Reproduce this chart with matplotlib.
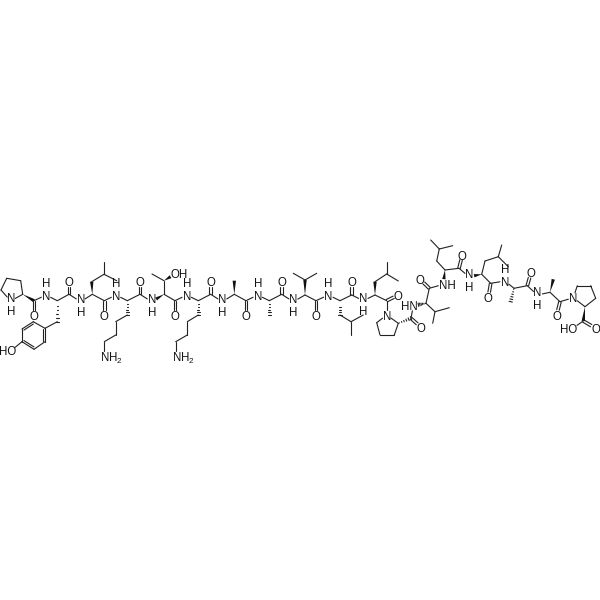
import numpy as np
import matplotlib
matplotlib.use("Agg")
import matplotlib.pyplot as plt
from matplotlib.patches import Polygon

plt.rcParams['font.family'] = ['Liberation Sans', 'DejaVu Sans']
plt.rcParams['mathtext.fontset'] = 'custom'
plt.rcParams['mathtext.rm'] = 'Liberation Sans'
plt.rcParams['mathtext.default'] = 'regular'

# atom name -> (x, y) (image pixels)
pro1 = {'p1a': (22.7, 294.3), 'p1b': (20.7, 280.7), 'p1c': (6.7, 278.3), 'p1d': (1, 290), 'p1n': (10.7, 301),
        'p1k': (34, 300.7), 'p1o': (34, 315)}
tyr = {'yn': (46, 295), 'ya': (57.3, 300.7), 'yb': (57.3, 321.7), 'y1': (45, 328.3), 'y2': (33.3, 321.7),
       'y3': (22, 329), 'y4': (22, 341.7), 'y5': (34, 349.3), 'y6': (45, 341.7), 'yoh': (11, 350.7),
       'yk': (69, 294.3), 'yo': (69, 281.7)}
leu1 = {'l1n': (80.7, 301.7), 'l1a': (92.3, 294.3), 'l1b': (91.7, 281.7), 'l1g': (104, 274.3),
        'l1d': (104, 261.7), 'l1e': (116.7, 280.7), 'l1k': (104.3, 300.7), 'l1o': (104.3, 315)}
lys1 = {'k1n': (116, 295), 'k1a': (127.3, 300.7), 'k1b': (127.3, 315), 'k1c': (115.7, 321.7), 'k1d': (115.7, 335),
        'k1e': (104.3, 341.7), 'k1z': (104.3, 356), 'k1k': (140, 294.3), 'k1o': (140, 281.7)}
thr = {'tn': (151.7, 301.7), 'ta': (164, 294.3), 'tb': (164, 280.7), 'tm': (152, 274), 'toh': (175, 274),
       'tk': (175, 300.7), 'to': (175, 315)}
lys2 = {'k2n': (186.7, 295), 'k2a': (198.3, 300.7), 'k2b': (198.3, 315), 'k2c': (187.3, 321.7), 'k2d': (187.3, 335),
        'k2e': (175.7, 341.7), 'k2z': (175.7, 356), 'k2k': (210.7, 294.3), 'k2o': (210.7, 281.7)}
ala1 = {'a1n': (222.3, 301.7), 'a1a': (234.3, 294.3), 'a1b': (234.3, 280.7), 'a1k': (246, 300.7), 'a1o': (246, 315)}
ala2 = {'a2n': (257.7, 295), 'a2a': (269.3, 300.7), 'a2b': (269.3, 315), 'a2k': (281.7, 294.3), 'a2o': (281.7, 281.7)}
val1 = {'v1n': (293.3, 301.7), 'v1a': (305, 295), 'v1b': (305, 280), 'v1c': (293.3, 273.3), 'v1d': (316.7, 273.3),
        'v1k': (316, 300.7), 'v1o': (316, 315)}
leu2 = {'l2n': (328.3, 295), 'l2a': (340, 300.7), 'l2b': (340, 315), 'l2g': (351, 321.7), 'l2d': (363.3, 315),
        'l2e': (351, 335), 'l2k': (351.7, 295), 'l2o': (351.7, 281.7)}
leu3 = {'l3n': (363.3, 300.7), 'l3a': (375, 295), 'l3b': (375, 281.7), 'l3g': (386.7, 274), 'l3d': (386.7, 261.7),
        'l3e': (398.3, 281), 'l3k': (386.7, 300.7), 'l3o': (398.3, 295)}
pro2 = {'p2n': (386.7, 315), 'p2a': (398.3, 323.3), 'p2b': (394.3, 335), 'p2c': (380, 335), 'p2d': (376.7, 322.7),
        'p2k': (411, 318.3), 'p2o': (421, 327.3)}
val2 = {'v2n': (413.3, 305.7), 'v2a': (426, 303.3), 'v2b': (435, 311.7), 'v2c': (449.3, 307.7), 'v2d': (432.7, 323.3),
        'v2k': (429.3, 288.3), 'v2o': (420, 279.3)}
leu4 = {'l4n': (443.3, 284.3), 'l4a': (445, 270), 'l4b': (436.7, 261), 'l4g': (439.3, 249), 'l4d': (430.7, 240),
        'l4e': (452.7, 245.7), 'l4k': (459, 268.3), 'l4o': (462.3, 255)}
leu5 = {'l5n': (469, 276.7), 'l5a': (481.7, 274.3), 'l5b': (485, 261), 'l5g': (498.3, 256.7), 'l5d': (501.7, 245),
        'l5e': (508.3, 266.7), 'l5k': (490.7, 283.3), 'l5o': (488.3, 297.3)}
ala3 = {'a3n': (505, 281), 'a3a': (514, 288.3), 'a3b': (510.7, 301.7), 'a3k': (527.3, 285.7), 'a3o': (531, 272.7)}
ala4 = {'a4n': (537.3, 295), 'a4a': (550, 292.3), 'a4b': (553.3, 279.3), 'a4k': (560, 301.7), 'a4o': (556.7, 315)}
pro3 = {'p3n': (573.3, 297.7), 'p3a': (585, 306.7), 'p3b': (595.7, 298.3), 'p3c': (590.7, 285.7), 'p3d': (577.3, 285.7),
        'p3k': (583.3, 321), 'p3o': (595.7, 328.3), 'p3h': (572.7, 328.3)}
atoms = {}
for group in (pro1, tyr, leu1, lys1, thr, lys2, ala1, ala2, val1, leu2, leu3, pro2, val2, leu4, leu5, ala3, ala4, pro3):
    atoms.update(group)

single_bonds = """p1a-p1b p1b-p1c p1c-p1d p1d-p1n p1n-p1a p1k-yn yn-ya ya-yk yb-y1 y1-y2 y2-y3 y3-y4 y4-y5 y5-y6 y6-y1
y4-yoh yk-l1n l1n-l1a l1a-l1k l1b-l1g l1g-l1d l1g-l1e l1k-k1n k1n-k1a k1a-k1k k1b-k1c k1c-k1d k1d-k1e k1e-k1z
k1k-tn ta-tk ta-tb tb-tm tk-k2n k2n-k2a k2a-k2k k2b-k2c k2c-k2d k2d-k2e k2e-k2z k2k-a1n a1n-a1a a1a-a1k a1k-a2n
a2n-a2a a2a-a2k a2k-v1n v1n-v1a v1a-v1k v1b-v1c v1b-v1d v1k-l2n l2n-l2a l2a-l2k l2b-l2g l2g-l2d l2g-l2e l2k-l3n
l3n-l3a l3a-l3k l3b-l3g l3g-l3d l3g-l3e l3k-p2n p2n-p2a p2a-p2b p2b-p2c p2c-p2d p2d-p2n p2k-v2n v2a-v2b v2b-v2c
v2b-v2d v2a-v2k v2k-l4n l4a-l4b l4b-l4g l4g-l4d l4g-l4e l4a-l4k l4k-l5n l5a-l5b l5a-l5k l5b-l5g l5g-l5d l5g-l5e l5k-a3n
a3n-a3a a3a-a3k a3k-a4n a4n-a4a a4a-a4k a4k-p3n p3n-p3a p3a-p3b p3b-p3c p3c-p3d p3d-p3n p3k-p3h""".split()
double_bonds = """p1k-p1o yk-yo l1k-l1o k1k-k1o tk-to k2k-k2o a1k-a1o a2k-a2o v1k-v1o l2k-l2o l3k-l3o p2k-p2o
v2k-v2o l4k-l4o l5k-l5o a3k-a3o a4k-a4o p3k-p3o""".split()
ring_doubles = "y2-y3 y4-y5 y6-y1".split()
wedges = """p1a-p1k l1a-l1b ta-tn tb-toh a1a-a1b v1a-v1b l3a-l3b l4a-l4n l5a-l5n a4a-a4b p3a-p3k""".split()
hashes = """ya-yb k1a-k1b k2a-k2b a2a-a2b l2a-l2b p2a-p2k v2a-v2n a3a-a3b""".split()

# atom -> (text, horizontal alignment, x shift)
labels = {'p1n': ('N', 'center', 0), 'p1o': ('O', 'center', 0), 'yn': ('N', 'center', 0), 'yo': ('O', 'center', 0),
          'yoh': ('HO', 'right', 5), 'l1n': ('N', 'center', 0), 'l1o': ('O', 'center', 0), 'k1n': ('N', 'center', 0),
          'k1o': ('O', 'center', 0), 'k1z': ('NH$_2$', 'left', -4), 'tn': ('N', 'center', 0), 'to': ('O', 'center', 0),
          'toh': ('OH', 'left', -4.5), 'k2n': ('N', 'center', 0), 'k2o': ('O', 'center', 0),
          'k2z': ('NH$_2$', 'left', -4), 'a1n': ('N', 'center', 0), 'a1o': ('O', 'center', 0),
          'a2n': ('N', 'center', 0), 'a2o': ('O', 'center', 0), 'v1n': ('N', 'center', 0), 'v1o': ('O', 'center', 0),
          'l2n': ('N', 'center', 0), 'l2o': ('O', 'center', 0), 'l3n': ('N', 'center', 0), 'l3o': ('O', 'center', 0),
          'p2n': ('N', 'center', 0), 'p2o': ('O', 'center', 0), 'v2n': ('HN', 'right', 4), 'v2o': ('O', 'center', 0),
          'l4n': ('NH', 'left', -4), 'l4o': ('O', 'center', 0), 'l5n': ('N', 'center', 0), 'l5o': ('O', 'center', 0),
          'a3n': ('N', 'center', 0), 'a3o': ('O', 'center', 0), 'a4n': ('N', 'center', 0), 'a4o': ('O', 'center', 0),
          'p3n': ('N', 'center', 0), 'p3o': ('O', 'center', 0), 'p3h': ('HO', 'right', 4.5)}
# nitrogens with their hydrogen written below
h_below = ['p1n', 'l1n', 'tn', 'a1n', 'v1n', 'l3n', 'l5n', 'a4n']
# nitrogens with their hydrogen written above
h_above = ['yn', 'k1n', 'k2n', 'a2n', 'l2n', 'a3n']

INK = '#222222'
fig = plt.figure(figsize=(6, 6), dpi=100)
ax = fig.add_axes([0, 0, 1, 1])
ax.set_xlim(0, 600)
ax.set_ylim(600, 0)
ax.axis('off')


def ends(a, b, trim=5.2):
    p, q = np.array(atoms[a], float), np.array(atoms[b], float)
    u = (q - p) / np.linalg.norm(q - p)
    if a in labels:
        p = p + u * trim
    if b in labels:
        q = q - u * trim
    return p, q, u


def line(p, q):
    ax.plot([p[0], q[0]], [p[1], q[1]], color=INK, lw=0.8, solid_capstyle='round')


for bond in single_bonds:
    a, b = bond.split('-')
    p, q, _ = ends(a, b)
    line(p, q)

for bond in double_bonds:
    a, b = bond.split('-')
    p, q, u = ends(a, b)
    n = np.array([-u[1], u[0]]) * 1.3
    line(p + n, q + n)
    line(p - n, q - n)

ring_center = np.mean([atoms[k] for k in ('y1', 'y2', 'y3', 'y4', 'y5', 'y6')], axis=0)
for bond in ring_doubles:
    a, b = bond.split('-')
    p, q, u = ends(a, b)
    p2 = p + (ring_center - p) * 0.17
    q2 = q + (ring_center - q) * 0.17
    line(p2, q2)

for bond in wedges:
    a, b = bond.split('-')
    p, q, u = ends(a, b)
    n = np.array([-u[1], u[0]]) * 1.7
    ax.add_patch(Polygon([p, q + n, q - n], closed=True, color='#111111', lw=0))

for bond in hashes:
    a, b = bond.split('-')
    p, q, u = ends(a, b)
    n = np.array([-u[1], u[0]])
    for t in np.linspace(0.08, 1, 6):
        c = p + (q - p) * t
        line(c + n * 1.7 * t, c - n * 1.7 * t)

H_GAP = 9.0
for atom, (text, ha, dx) in labels.items():
    x, y = atoms[atom]
    if atom in h_below:
        text, y = text + '\nH', y + H_GAP / 2
    elif atom in h_above:
        text, y = 'H\n' + text, y - H_GAP / 2
    va = 'center' if '\n' in text else 'center_baseline'
    ax.text(x + dx, y, text, ha=ha, va=va, fontsize=8.3, color='#111111', linespacing=1.12,
            multialignment='center')

fig.savefig('out.png', dpi=100)
